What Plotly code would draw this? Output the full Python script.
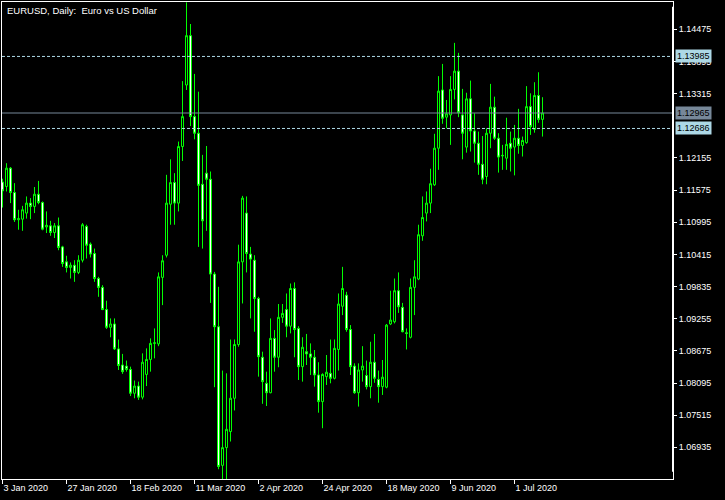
import pandas as pd
import plotly.graph_objects as go

# ---------------- data (EURUSD daily) ----------------
dates = [d.strftime("%Y-%m-%d") for d in pd.bdate_range("2020-01-03", periods=136)]

opens = [1.1172, 1.1164, 1.1197, 1.1153, 1.1104, 1.1105, 1.1116, 1.1134, 1.1128, 1.1150,
         1.1135, 1.1091, 1.1093, 1.1081, 1.1093, 1.1055, 1.1028, 1.1018, 1.1022, 1.1009,
         1.1031, 1.1092, 1.1060, 1.1043, 1.0998, 1.0982, 1.0942, 1.0910, 1.0916, 1.0871,
         1.0842, 1.0840, 1.0834, 1.0791, 1.0804, 1.0784, 1.0825, 1.0852, 1.0881, 1.0880,
         1.1000, 1.1040, 1.1132, 1.1171, 1.1134, 1.1236, 1.1347, 1.1436, 1.1290, 1.1260,
         1.1168, 1.1188, 1.1177, 1.1006, 1.0911, 1.0661, 1.0693, 1.0722, 1.0782, 1.0879,
         1.1028, 1.1116, 1.1042, 1.1031, 1.0962, 1.0856, 1.0809, 1.0792, 1.0890, 1.0856,
         1.0928, 1.0942, 1.0912, 1.0980, 1.0908, 1.0839, 1.0866, 1.0862, 1.0856, 1.0824,
         1.0776, 1.0821, 1.0827, 1.0818, 1.0870, 1.0948, 1.0968, 1.0906, 1.0840, 1.0792,
         1.0833, 1.0823, 1.0803, 1.0847, 1.0816, 1.0803, 1.0802, 1.0916, 1.0920, 1.0976,
         1.0946, 1.0900, 1.0892, 1.0982, 1.0997, 1.1075, 1.1116, 1.1134, 1.1167, 1.1233,
         1.1338, 1.1289, 1.1293, 1.1339, 1.1372, 1.1293, 1.1235, 1.1322, 1.1264, 1.1242,
         1.1204, 1.1182, 1.1260, 1.1307, 1.1251, 1.1219, 1.1215, 1.1242, 1.1235, 1.1251,
         1.1238, 1.1243, 1.1308, 1.1267, 1.1328, 1.1285]

highs = [1.1178, 1.1206, 1.1199, 1.1170, 1.1122, 1.1129, 1.1146, 1.1143, 1.1163, 1.1174,
         1.1137, 1.1119, 1.1102, 1.1098, 1.1108, 1.1057, 1.1039, 1.1027, 1.1031, 1.1040,
         1.1098, 1.1095, 1.1063, 1.1052, 1.1001, 1.0986, 1.0958, 1.0926, 1.0926, 1.0888,
         1.0862, 1.0850, 1.0839, 1.0814, 1.0812, 1.0863, 1.0872, 1.0890, 1.0908, 1.1009,
         1.1040, 1.1185, 1.1213, 1.1188, 1.1245, 1.1354, 1.1496, 1.1457, 1.1367, 1.1335,
         1.1221, 1.1237, 1.1191, 1.1010, 1.0983, 1.0832, 1.0827, 1.0888, 1.0888, 1.1059,
         1.1147, 1.1146, 1.1055, 1.1040, 1.0965, 1.0866, 1.0830, 1.0926, 1.0905, 1.0952,
         1.0952, 1.0971, 1.0989, 1.0991, 1.0912, 1.0892, 1.0898, 1.0881, 1.0869, 1.0847,
         1.0827, 1.0860, 1.0888, 1.0888, 1.0971, 1.1019, 1.0974, 1.0914, 1.0845, 1.0845,
         1.0876, 1.0850, 1.0884, 1.0898, 1.0832, 1.0851, 1.0916, 1.0976, 1.0998, 1.1009,
         1.0954, 1.0908, 1.0998, 1.1031, 1.1095, 1.1146, 1.1155, 1.1196, 1.1259, 1.1363,
         1.1385, 1.1320, 1.1363, 1.1423, 1.1405, 1.1340, 1.1333, 1.1355, 1.1296, 1.1263,
         1.1255, 1.1269, 1.1349, 1.1326, 1.1260, 1.1239, 1.1288, 1.1263, 1.1275, 1.1304,
         1.1254, 1.1345, 1.1332, 1.1352, 1.1370, 1.1325]

lows = [1.1126, 1.1155, 1.1134, 1.1100, 1.1086, 1.1084, 1.1106, 1.1105, 1.1116, 1.1132,
        1.1085, 1.1080, 1.1075, 1.1071, 1.1049, 1.1019, 1.1009, 1.0998, 1.0992, 1.1006,
        1.1027, 1.1034, 1.1036, 1.0992, 1.0965, 1.0941, 1.0907, 1.0892, 1.0869, 1.0833,
        1.0826, 1.0830, 1.0786, 1.0782, 1.0779, 1.0780, 1.0804, 1.0830, 1.0854, 1.0876,
        1.0950, 1.1036, 1.1095, 1.1095, 1.1119, 1.1210, 1.1338, 1.1273, 1.1249, 1.1055,
        1.1052, 1.1084, 1.0954, 1.0802, 1.0654, 1.0636, 1.0635, 1.0704, 1.0760, 1.0875,
        1.0953, 1.1009, 1.0926, 1.0902, 1.0821, 1.0772, 1.0768, 1.0791, 1.0830, 1.0838,
        1.0918, 1.0892, 1.0899, 1.0856, 1.0815, 1.0812, 1.0842, 1.0824, 1.0803, 1.0756,
        1.0728, 1.0806, 1.0809, 1.0816, 1.0832, 1.0932, 1.0902, 1.0824, 1.0790, 1.0767,
        1.0812, 1.0798, 1.0782, 1.0810, 1.0774, 1.0788, 1.0800, 1.0914, 1.0917, 1.0936,
        1.0901, 1.0870, 1.0890, 1.0932, 1.0995, 1.1066, 1.1101, 1.1116, 1.1165, 1.1194,
        1.1277, 1.1269, 1.1239, 1.1321, 1.1289, 1.1213, 1.1225, 1.1227, 1.1207, 1.1185,
        1.1168, 1.1168, 1.1233, 1.1248, 1.1189, 1.1194, 1.1194, 1.1191, 1.1184, 1.1223,
        1.1218, 1.1241, 1.1257, 1.1261, 1.1279, 1.1254]

closes = [1.1156, 1.1197, 1.1153, 1.1104, 1.1106, 1.1122, 1.1134, 1.1128, 1.1150, 1.1135,
          1.1087, 1.1094, 1.1081, 1.1093, 1.1054, 1.1025, 1.1018, 1.1022, 1.1009, 1.1031,
          1.1095, 1.1058, 1.1042, 1.0998, 1.0982, 1.0942, 1.0910, 1.0916, 1.0871, 1.0841,
          1.0830, 1.0834, 1.0791, 1.0804, 1.0784, 1.0847, 1.0852, 1.0881, 1.0882, 1.1001,
          1.1030, 1.1134, 1.1171, 1.1134, 1.1236, 1.1290, 1.1436, 1.1290, 1.1260, 1.1166,
          1.1102, 1.1177, 1.1006, 1.0911, 1.0659, 1.0693, 1.0726, 1.0782, 1.0879, 1.1028,
          1.1143, 1.1043, 1.1033, 1.0962, 1.0857, 1.0812, 1.0792, 1.0890, 1.0856, 1.0928,
          1.0935, 1.0912, 1.0980, 1.0906, 1.0839, 1.0874, 1.0862, 1.0856, 1.0824, 1.0776,
          1.0825, 1.0829, 1.0818, 1.0872, 1.0952, 1.0980, 1.0906, 1.0839, 1.0792, 1.0833,
          1.0840, 1.0803, 1.0847, 1.0818, 1.0803, 1.0820, 1.0914, 1.0923, 1.0976, 1.0947,
          1.0902, 1.0899, 1.0982, 1.1001, 1.1077, 1.1108, 1.1134, 1.1169, 1.1233, 1.1336,
          1.1287, 1.1295, 1.1339, 1.1372, 1.1297, 1.1260, 1.1322, 1.1264, 1.1242, 1.1204,
          1.1177, 1.1260, 1.1307, 1.1251, 1.1217, 1.1220, 1.1240, 1.1233, 1.1251, 1.1238,
          1.1247, 1.1308, 1.1272, 1.1328, 1.1285, 1.12965]

x_tick_idx = [0, 16, 32, 48, 64, 80, 96, 112, 128]
x_tick_labels = ["3 Jan 2020", "27 Jan 2020", "18 Feb 2020", "11 Mar 2020", "2 Apr 2020",
                 "24 Apr 2020", "18 May 2020", "9 Jun 2020", "1 Jul 2020"]

y_tick_labels = ["1.14475", "1.13895", "1.13315", "1.12155", "1.11575", "1.10995",
                 "1.10415", "1.09835", "1.09255", "1.08675", "1.08095", "1.07515", "1.06935"]

level_lines = [1.13985, 1.12686]   # dashed horizontal levels
bid_price = 1.12965                # current price line

title_text = "EURUSD, Daily:\u00a0\u00a0Euro vs US Dollar"

# ---------------- figure ----------------
LIME = "#00FF00"
LEVEL = "#ADD8E6"
BIDC = "#778899"
FONT = "Liberation Sans, Arial, sans-serif"
TFS = 9  # tick / label font size

fig = go.Figure(go.Candlestick(
    x=dates, open=opens, high=highs, low=lows, close=closes,
    increasing=dict(line=dict(color=LIME, width=1), fillcolor="#000000"),
    decreasing=dict(line=dict(color=LIME, width=1), fillcolor="#FFFFFF"),
    whiskerwidth=0,
    hoverinfo="skip",
))

for lv in level_lines:
    fig.add_shape(type="line", xref="paper", x0=0, x1=1, y0=lv, y1=lv,
                  line=dict(color=LEVEL, width=1, dash="3px,2px"), layer="above")
    fig.add_annotation(xref="paper", x=1, y=lv, yref="y", text=f"{lv:.5f}",
                       xanchor="left", yanchor="middle", xshift=2, showarrow=False,
                       bgcolor=LEVEL, borderpad=1,
                       font=dict(family=FONT, size=TFS, color="#000000"))

fig.add_shape(type="line", xref="paper", x0=0, x1=1, y0=bid_price, y1=bid_price,
              line=dict(color=BIDC, width=1), layer="above")
fig.add_annotation(xref="paper", x=1, y=bid_price, yref="y", text=f"{bid_price:.5f}",
                   xanchor="left", yanchor="middle", xshift=2, showarrow=False,
                   bgcolor=BIDC, borderpad=1,
                   font=dict(family=FONT, size=TFS, color="#000000"))

# thicker price-scale line on the right
fig.add_shape(type="line", xref="paper", yref="paper", x0=1, x1=1, y0=0.015, y1=0.99,
              line=dict(color="#FFFFFF", width=2), layer="above")

fig.add_annotation(xref="paper", yref="paper", x=0, y=1, xanchor="left", yanchor="top",
                   xshift=3, yshift=-1, showarrow=False, text=title_text,
                   font=dict(family=FONT, size=9.5, color="#FFFFFF"))

fig.update_layout(
    width=725, height=500,
    margin=dict(l=2, r=52, t=2, b=21, pad=0),
    paper_bgcolor="#000000", plot_bgcolor="#000000",
    showlegend=False,
    boxgap=0.5, boxgroupgap=0,
    font=dict(family=FONT, size=TFS, color="#FFFFFF"),
    xaxis=dict(
        type="category", range=[-0.125, 167.625],
        rangeslider=dict(visible=False),
        tickmode="array",
        tickvals=[dates[i] for i in x_tick_idx], ticktext=x_tick_labels,
        ticklabelposition="outside right", tickangle=0,
        ticks="outside", ticklen=4, tickcolor="#FFFFFF", tickwidth=1,
        showgrid=False, zeroline=False,
        showline=True, linecolor="#FFFFFF", linewidth=1, mirror=True,
        tickfont=dict(family=FONT, size=TFS, color="#FFFFFF"),
    ),
    yaxis=dict(
        side="right", range=[1.06364, 1.14967],
        tickmode="array",
        tickvals=[float(t) for t in y_tick_labels], ticktext=y_tick_labels,
        ticks="outside", ticklen=3, tickcolor="#FFFFFF", tickwidth=1,
        showgrid=False, zeroline=False,
        showline=True, linecolor="#FFFFFF", linewidth=1, mirror=True,
        tickfont=dict(family=FONT, size=TFS, color="#FFFFFF"),
    ),
)

fig.write_html("out.html", config={"displayModeBar": False},
               post_script="document.body.style.margin='0';document.body.style.overflow='hidden';")
